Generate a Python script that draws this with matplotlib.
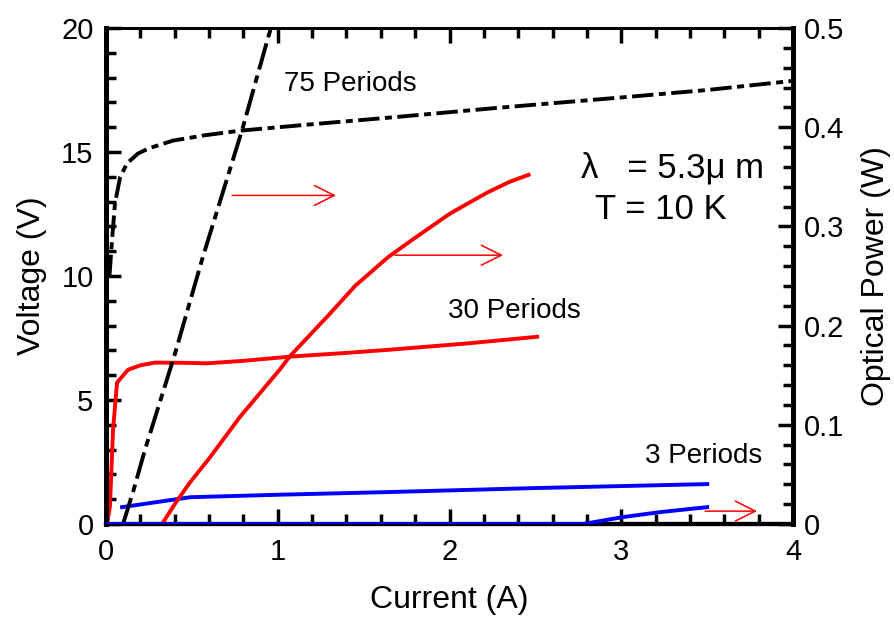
#!/usr/bin/env python

import numpy as np
import matplotlib
matplotlib.use("Agg")
import matplotlib.pyplot as plt
from matplotlib.ticker import MultipleLocator

plt.rcParams['font.family'] = ['Liberation Sans', 'DejaVu Sans']

#
# Measured L-I-V curves for 75, 30 and 3 period devices
#
# 75 periods: voltage (V) and optical power (W) against current (A)
i75_v = [0.02, 0.035, 0.052, 0.082, 0.122, 0.186, 0.25, 0.39, 0.58, 0.78, 1.2, 1.654, 2.294, 3.0, 3.5, 4.0]
v75 = [10.0, 11.45, 12.93, 13.98, 14.54, 14.94, 15.15, 15.46, 15.68, 15.86, 16.12, 16.39, 16.79, 17.2, 17.5, 17.87]
i75_p = [0.099, 0.16, 0.227, 0.402, 0.565, 0.792, 0.943, 0.96]
p75 = [0.0, 0.034, 0.075, 0.172, 0.27, 0.397, 0.49, 0.50]

# 30 periods
i30_v = [0.006, 0.023, 0.041, 0.064, 0.128, 0.2, 0.285, 0.45, 0.588, 0.8, 1.071, 1.4, 1.654, 2.1, 2.51]
v30 = [0.0, 0.72, 3.82, 5.70, 6.22, 6.4, 6.51, 6.5, 6.48, 6.58, 6.75, 6.9, 7.03, 7.28, 7.55]
i30_p = [0.0, 0.31, 0.326, 0.40, 0.489, 0.60, 0.78, 1.013, 1.07, 1.298, 1.45, 1.642, 1.787, 2.003, 2.218, 2.35, 2.46]
p30 = [0.0, 0.0, 0.0, 0.02, 0.042, 0.066, 0.108, 0.156, 0.169, 0.211, 0.240, 0.269, 0.287, 0.313, 0.334, 0.345, 0.352]

# 3 periods
i3_v = [0.093, 0.489, 1.0, 1.654, 2.5, 3.0, 3.5]
v3 = [0.68, 1.08, 1.18, 1.29, 1.45, 1.53, 1.61]
i3_p = [0.0, 2.777, 3.01, 3.226, 3.5]
p3 = [0.0, 0.0, 0.007, 0.012, 0.017]

fig = plt.figure(figsize=(8.94, 6.17), dpi=100)
ax = fig.add_axes([0.1186, 0.1507, 0.7685, 0.8039])
ax2 = ax.twinx()

lw = 2.8
ax.plot(i75_v, v75, color='black', lw=lw, ls=(0, (5.5, 1.4, 1.8, 1.4)))
ax2.plot(i75_p, p75, color='black', lw=lw, ls=(0, (7, 1.6, 2, 1.6)))
ax.plot(i30_v, v30, color='red', lw=lw)
ax2.plot(i30_p, p30, color='red', lw=lw, zorder=3)
ax.plot(i3_v, v3, color='blue', lw=lw)
ax2.plot(i3_p, p3, color='blue', lw=lw, zorder=3)

ax.set_xlim(0, 4)
ax.set_ylim(0, 20)
ax2.set_ylim(0, 0.5)

# arrows pointing to the power axis
arrow = dict(arrowstyle='->', color='red', lw=1.1, mutation_scale=36,
             shrinkA=0, shrinkB=0)
ax.annotate('', xy=(1.339, 13.25), xytext=(0.734, 13.25), arrowprops=arrow)
ax.annotate('', xy=(2.311, 10.84), xytext=(1.683, 10.84), arrowprops=arrow)
ax.annotate('', xy=(3.79, 0.52), xytext=(3.488, 0.52), arrowprops=arrow)

ax.text(1.42, 17.73, '75 Periods', fontsize=20, ha='center', va='center')
ax.text(2.375, 8.6, '30 Periods', fontsize=20, ha='center', va='center')
ax.text(3.48, 2.73, '3 Periods', fontsize=20, ha='center', va='center')
ax.text(3.30, 14.34, 'λ   = 5.3μ m', fontsize=25, ha='center', va='center')
ax.text(3.23, 12.67, 'T = 10 K', fontsize=25, ha='center', va='center')

ax.set_xlabel('Current (A)', fontsize=23, labelpad=14)
ax.set_ylabel('Voltage (V)', fontsize=23, labelpad=10)
ax2.set_ylabel('Optical Power (W)', fontsize=23, labelpad=12)

ax.xaxis.set_major_locator(MultipleLocator(1))
ax.xaxis.set_minor_locator(MultipleLocator(0.2))
ax.yaxis.set_major_locator(MultipleLocator(5))
ax.yaxis.set_minor_locator(MultipleLocator(1))
ax2.yaxis.set_major_locator(MultipleLocator(0.1))
ax2.yaxis.set_minor_locator(MultipleLocator(0.02))
ax2.yaxis.set_major_formatter(plt.FuncFormatter(lambda v, p: '0' if v == 0 else '%.1f' % v))

ax.tick_params(axis='x', which='both', direction='in', top=True, labelsize=21, pad=10)
ax.tick_params(axis='y', which='both', direction='in', right=False, labelsize=21, pad=9)
ax2.tick_params(axis='y', which='both', direction='in', labelsize=21, pad=8)
for a in (ax, ax2):
    a.tick_params(which='major', length=11, width=2.5)
    a.tick_params(which='minor', length=7.5, width=2.5)
    a.spines['left'].set_linewidth(3.5)
    a.spines['right'].set_linewidth(3.5)
    a.spines['bottom'].set_linewidth(3)
    a.spines['top'].set_linewidth(2)

plt.savefig("out.png", dpi=100)
